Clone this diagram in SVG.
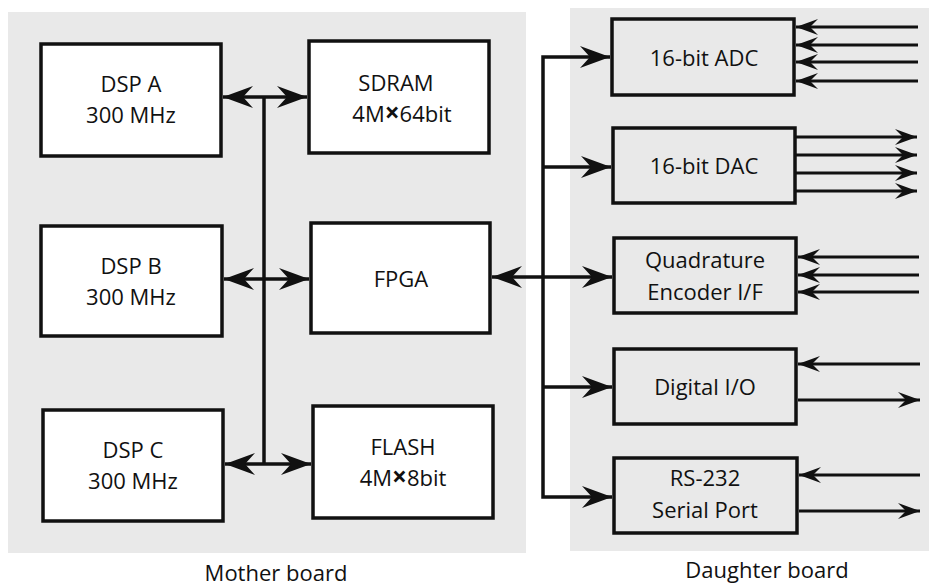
<svg xmlns="http://www.w3.org/2000/svg" width="929" height="586" viewBox="0 0 929 586">
<style>
.bg{fill:#e9e9e9}
.mb{fill:#ffffff;stroke:#111;stroke-width:3.5}
.db{fill:#e9e9e9;stroke:#111;stroke-width:3.5}
.t{font-family:"Open Sans","Liberation Sans",sans-serif;font-size:22px;font-weight:500;fill:#111;text-anchor:middle}
.x{font-weight:700;font-size:26px}
.bus{stroke:#111;stroke-width:3.5;fill:none}
.sig{stroke:#111;stroke-width:3;fill:none}
</style>
<defs>
<marker id="ah" markerUnits="userSpaceOnUse" viewBox="-31 -12 32 24" refX="0" refY="0" markerWidth="32" markerHeight="24" orient="auto-start-reverse">
<path d="M0,0 L-30,-11 L-20,0 L-30,11 Z" fill="#111"/>
</marker>
<marker id="sh" markerUnits="userSpaceOnUse" viewBox="-23 -9 24 18" refX="0" refY="0" markerWidth="24" markerHeight="18" orient="auto-start-reverse">
<path d="M0,0 L-22,-8 L-14,0 L-22,8 Z" fill="#111"/>
</marker>
</defs>
<rect class="bg" x="8" y="12" width="518" height="541"/>
<rect class="bg" x="570" y="8" width="359" height="543"/>
<g id="connectors">
<line class="bus" x1="264" y1="97" x2="264" y2="464"/>
<line class="bus" x1="223" y1="97" x2="307" y2="97" marker-start="url(#ah)" marker-end="url(#ah)"/>
<line class="bus" x1="224" y1="279" x2="309" y2="279" marker-start="url(#ah)" marker-end="url(#ah)"/>
<line class="bus" x1="225" y1="464" x2="311" y2="464" marker-start="url(#ah)" marker-end="url(#ah)"/>
<line class="bus" x1="492" y1="277" x2="612" y2="277" marker-start="url(#ah)" marker-end="url(#ah)"/>
<polyline class="bus" points="610,57 543,57 543,497 612,497" marker-start="url(#ah)" marker-end="url(#ah)"/>
<line class="bus" x1="543" y1="167" x2="611" y2="167" marker-end="url(#ah)"/>
<line class="bus" x1="543" y1="387" x2="612" y2="387" marker-end="url(#ah)"/>
<line class="sig" x1="918" y1="27" x2="796" y2="27" marker-end="url(#sh)"/>
<line class="sig" x1="918" y1="45" x2="796" y2="45" marker-end="url(#sh)"/>
<line class="sig" x1="918" y1="62" x2="796" y2="62" marker-end="url(#sh)"/>
<line class="sig" x1="918" y1="81" x2="796" y2="81" marker-end="url(#sh)"/>
<line class="sig" x1="796" y1="137" x2="917" y2="137" marker-end="url(#sh)"/>
<line class="sig" x1="796" y1="155" x2="917" y2="155" marker-end="url(#sh)"/>
<line class="sig" x1="796" y1="173" x2="917" y2="173" marker-end="url(#sh)"/>
<line class="sig" x1="796" y1="191" x2="917" y2="191" marker-end="url(#sh)"/>
<line class="sig" x1="919" y1="257" x2="798" y2="257" marker-end="url(#sh)"/>
<line class="sig" x1="919" y1="275" x2="798" y2="275" marker-end="url(#sh)"/>
<line class="sig" x1="919" y1="292" x2="798" y2="292" marker-end="url(#sh)"/>
<line class="sig" x1="920" y1="364" x2="798" y2="364" marker-end="url(#sh)"/>
<line class="sig" x1="798" y1="400" x2="920" y2="400" marker-end="url(#sh)"/>
<line class="sig" x1="920" y1="475" x2="799" y2="475" marker-end="url(#sh)"/>
<line class="sig" x1="799" y1="511" x2="920" y2="511" marker-end="url(#sh)"/>
</g>
<g id="dspA"><rect class="mb" x="41" y="44" width="180" height="112"/><text class="t" x="131" y="92">DSP A</text><text class="t" x="131" y="123">300 MHz</text></g>
<g id="sdram"><rect class="mb" x="309" y="41" width="180" height="112"/><text class="t" x="396" y="91">SDRAM</text><text class="t" x="402" y="122">4M<tspan class="x">×</tspan>64bit</text></g>
<g id="dspB"><rect class="mb" x="41" y="226" width="181" height="110"/><text class="t" x="131" y="274">DSP B</text><text class="t" x="131" y="305">300 MHz</text></g>
<g id="fpga"><rect class="mb" x="311" y="223" width="179" height="110"/><text class="t" x="401" y="287">FPGA</text></g>
<g id="dspC"><rect class="mb" x="43" y="410" width="180" height="111"/><text class="t" x="133" y="458">DSP C</text><text class="t" x="133" y="489">300 MHz</text></g>
<g id="flash"><rect class="mb" x="313" y="406" width="180" height="112"/><text class="t" x="403" y="455">FLASH</text><text class="t" x="403" y="486">4M<tspan class="x">×</tspan>8bit</text></g>
<g id="adc"><rect class="db" x="612" y="19" width="182" height="76"/><text class="t" x="704" y="66">16-bit ADC</text></g>
<g id="dac"><rect class="db" x="613" y="128" width="182" height="75"/><text class="t" x="704" y="174">16-bit DAC</text></g>
<g id="quad"><rect class="db" x="614" y="238" width="182" height="75"/><text class="t" x="705" y="268">Quadrature</text><text class="t" x="705" y="300">Encoder I/F</text></g>
<g id="dio"><rect class="db" x="614" y="349" width="182" height="75"/><text class="t" x="705" y="395">Digital I/O</text></g>
<g id="rs232"><rect class="db" x="614" y="458" width="183" height="75"/><text class="t" x="705" y="486">RS-232</text><text class="t" x="705" y="518">Serial Port</text></g>
<text class="t" x="276" y="581">Mother board</text>
<text class="t" x="767" y="578">Daughter board</text>
</svg>
